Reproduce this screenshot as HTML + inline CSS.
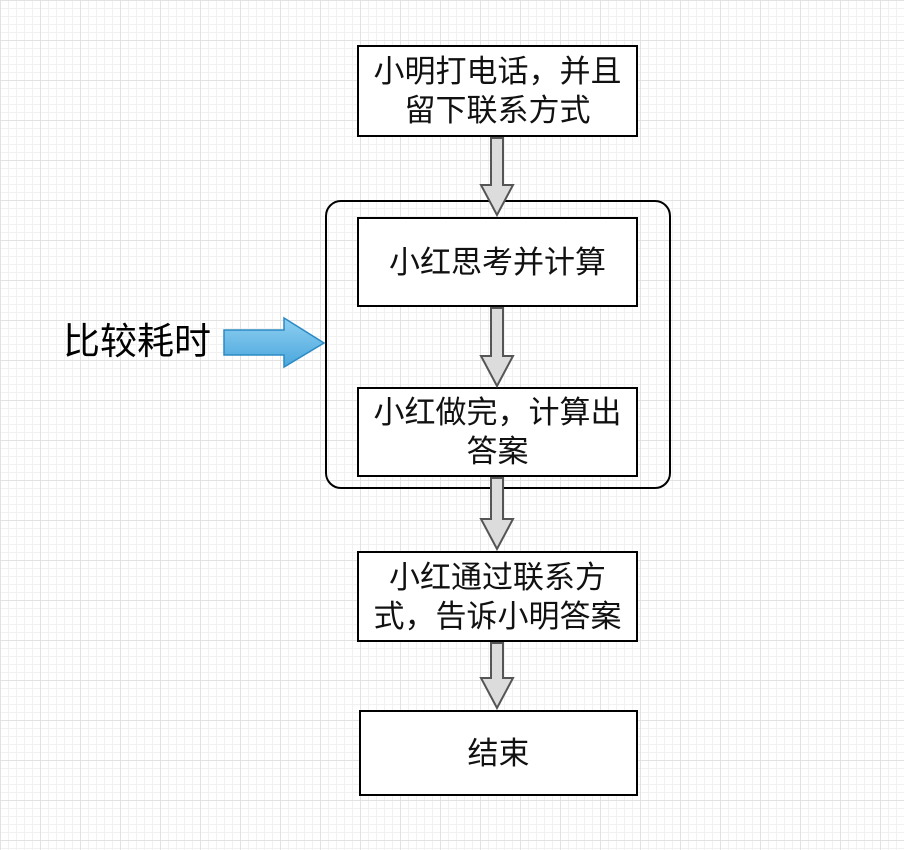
<!DOCTYPE html>
<html><head><meta charset="utf-8"><style>
html,body{margin:0;padding:0}
body{width:904px;height:850px;position:relative;overflow:hidden;background-color:#fff;
background-image:linear-gradient(#e2e2e2 1px,transparent 1px),linear-gradient(90deg,#e2e2e2 1px,transparent 1px),linear-gradient(#f1f1f1 1px,transparent 1px),linear-gradient(90deg,#f1f1f1 1px,transparent 1px);
background-size:40px 40px,40px 40px,8px 8px,8px 8px;
font-family:"Liberation Sans","Noto Sans CJK SC",sans-serif;}
.b{position:absolute;box-sizing:border-box;border:2px solid #000;background:#fff;display:flex;align-items:center;justify-content:center;text-align:center;font-size:31px;line-height:39px;color:#111}
</style></head><body>
<div style="position:absolute;left:325px;top:200px;width:346px;height:289px;box-sizing:border-box;border:2px solid #000;border-radius:16px"></div>
<div class="b" style="left:357px;top:45px;width:281px;height:92px">小明打电话，并且<br>留下联系方式</div>
<div class="b" style="left:357px;top:217px;width:281px;height:90px">小红思考并计算</div>
<div class="b" style="left:357px;top:387px;width:281px;height:90px">小红做完，计算出<br>答案</div>
<div class="b" style="left:357px;top:551px;width:281px;height:91px">小红通过联系方<br>式，告诉小明答案</div>
<div class="b" style="left:359px;top:710px;width:279px;height:86px">结束</div>
<div style="position:absolute;left:63px;top:317px;font-size:37px;line-height:50px;color:#000">比较耗时</div>
<svg width="904" height="850" style="position:absolute;left:0;top:0">
<defs><linearGradient id="g" x1="0" y1="0" x2="0" y2="1"><stop offset="0" stop-color="#8fd0f2"/><stop offset="1" stop-color="#4aa6dc"/></linearGradient></defs>
<g fill="#dcdcdc" stroke="#555" stroke-width="2">
<path d="M491 138 H503 V185 H513 L497 215 L481 185 H491 Z"/>
<path d="M491 308 H503 V356 H513 L497 386 L481 356 H491 Z"/>
<path d="M491 478 H503 V519 H513 L497 549 L481 519 H491 Z"/>
<path d="M491 643 H503 V678 H513 L497 708 L481 678 H491 Z"/>
</g>
<path d="M224 330 H284 V318 L324 343 L284 367 V355 H224 Z" fill="url(#g)" stroke="#2b8ac4" stroke-width="1.5"/>
</svg>
</body></html>
